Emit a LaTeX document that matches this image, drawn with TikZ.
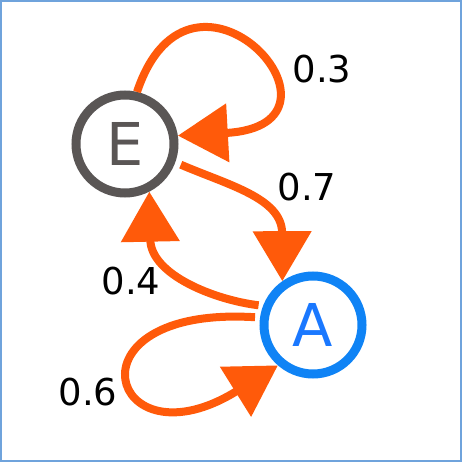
\documentclass[tikz,border=0pt]{standalone}
\usepackage{fontspec}
\setmainfont{DejaVu Sans}
\usetikzlibrary{arrows.meta}
\definecolor{frameblue}{HTML}{6FA3DC}
\definecolor{egray}{HTML}{5A5655}
\definecolor{ablue}{HTML}{0F83F5}
\definecolor{atext}{HTML}{1A78FF}
\definecolor{arrorange}{HTML}{FF5A0A}
\tikzset{
  statenode/.style={circle, minimum size=98pt, inner sep=0pt, line width=9pt, fill=white,
    font=\fontsize{59}{60}\selectfont},
  trans/.style={draw=arrorange, line width=8pt,
    -{Triangle[length=50pt,width=57pt,fill=arrorange]}},
  prob/.style={font=\fontsize{37}{40}\selectfont, text=black, inner sep=0pt}
}
\begin{document}
\begin{tikzpicture}[x=1pt,y=-1pt]
\useasboundingbox (0,0) rectangle (462,462);
\draw[frameblue, line width=2pt] (1,1) rectangle (461,461);
\node[statenode, draw=egray, text=egray] (E) at (125,144) {E};
\node[statenode, draw=ablue, text=atext] (A) at (313,325) {A};
% E self loop
\draw[trans] (E.77) .. controls (192,-72) and (370,125) .. (E.9);
% E -> A
\draw[trans, shorten <=6pt] (E.-20) .. controls (228,185) and (282,198) .. (A.125);
% A -> E
\draw[trans, shorten <=4.5pt] (A.159) .. controls (215,300) and (151,275) .. (E.-63);
% A self loop
\draw[trans, shorten <=5pt] (A.172) .. controls (60,305) and (110,470) .. (A.229);
\node[prob] (p3) at (322,69) {0.3};
\node[prob] (p7) at (307,187) {0.7};
\node[prob] (p4) at (131,281) {0.4};
\node[prob] (p6) at (88,392) {0.6};
\end{tikzpicture}
\end{document}
